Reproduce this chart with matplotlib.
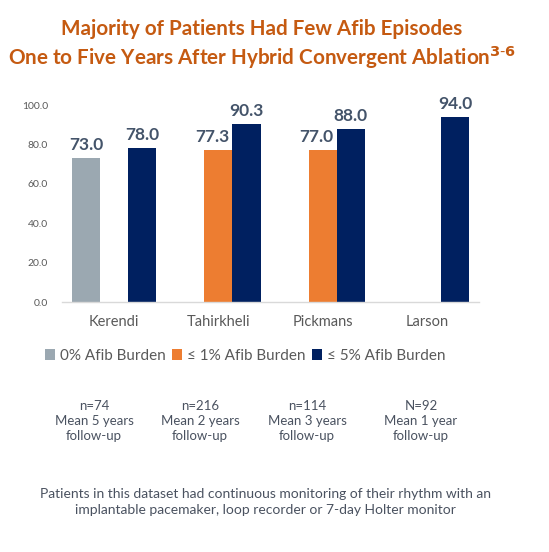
import matplotlib
matplotlib.use("Agg")
import matplotlib.pyplot as plt
import numpy as np

categories = ["Kerendi", "Tahirkheli", "Pickmans", "Larson"]
series_names = ["0% Afib Burden", "≤ 1% Afib Burden", "≤ 5% Afib Burden"]
burden_0 = [73.0, None, None, None]
burden_1 = [None, 77.3, 77.0, None]
burden_5 = [78.0, 90.3, 88.0, 94.0]
yticks = [0, 20, 40, 60, 80, 100]
notes = ["n=74\nMean 5 years\nfollow-up", "n=216\nMean 2 years\nfollow-up",
         "n=114\nMean 3 years\nfollow-up", "N=92\nMean 1 year\nfollow-up"]
footer = ("Patients in this dataset had continuous monitoring of their rhythm with an\n"
          "implantable pacemaker, loop recorder or 7-day Holter monitor")
title = "Majority of Patients Had Few Afib Episodes\nOne to Five Years After Hybrid Convergent Ablation$^{\\mathbf{3\\text{-}6}}$"

colors = ["#9BA8B1", "#ED7D31", "#002060"]
label_color = "#44546A"
text_color = "#595959"
note_color = "#4A5260"

plt.rcParams['font.family'] = ['Lato', 'DejaVu Sans']

fig = plt.figure(figsize=(5.49, 5.52), dpi=100)
W, H = 549, 552
ax = fig.add_axes([62 / W, (H - 302) / H, 417 / W, 197 / H])

x = np.arange(len(categories))
bw = 0.27
series = [burden_0, burden_1, burden_5]
for i, (vals, c, name) in enumerate(zip(series, colors, series_names)):
    xs = [xi + (i - 1) * bw for xi, v in zip(x, vals) if v is not None]
    vs = [v for v in vals if v is not None]
    bars = ax.bar(xs, vs, width=bw, color=c, label=name)
    for b, v in zip(bars, vs):
        dx = 0
        if i == 1:
            dx = -0.06
        ax.text(b.get_x() + b.get_width() / 2 + dx, v + 2.5, f"{v:.1f}",
                ha="center", va="bottom", fontsize=12.5, fontweight="bold",
                color=label_color)

ax.set_xlim(-0.5, 3.5)
ax.set_ylim(0, 100)
ax.set_yticks(yticks)
ax.set_yticklabels([f"{t:.1f}" for t in yticks], fontsize=7.5, color=text_color)
ax.set_xticks(x)
ax.set_xticklabels(categories, fontsize=10.5, color=text_color)
ax.tick_params(axis="both", length=0)
ax.tick_params(axis="y", pad=10)
ax.tick_params(axis="x", pad=9)
for s in ["top", "right", "left"]:
    ax.spines[s].set_visible(False)
ax.spines["bottom"].set_color("#D9D9D9")
ax.spines["bottom"].set_linewidth(1)

leg = fig.legend(loc="center", bbox_to_anchor=(245 / W, (H - 356) / H), ncol=3,
                 frameon=False, fontsize=11, handlelength=0.7, handleheight=0.7,
                 handletextpad=0.3, columnspacing=0.4)
for t in leg.get_texts():
    t.set_color(text_color)

note_x = [94, 200, 307, 421]
for nx, note in zip(note_x, notes):
    fig.text(nx / W, (H - 421) / H, note, ha="center", va="center", fontsize=9.5,
             color=note_color, linespacing=1.3)

fig.text(265 / W, (H - 502) / H, footer, ha="center", va="center", fontsize=10,
         color=note_color, linespacing=1.4)

fig.text(262 / W, (H - 45) / H, title, ha="center", va="center", fontsize=14.9,
         fontweight="bold", color="#C55A11", linespacing=1.2)

fig.savefig("out.png", dpi=100, facecolor="white")
